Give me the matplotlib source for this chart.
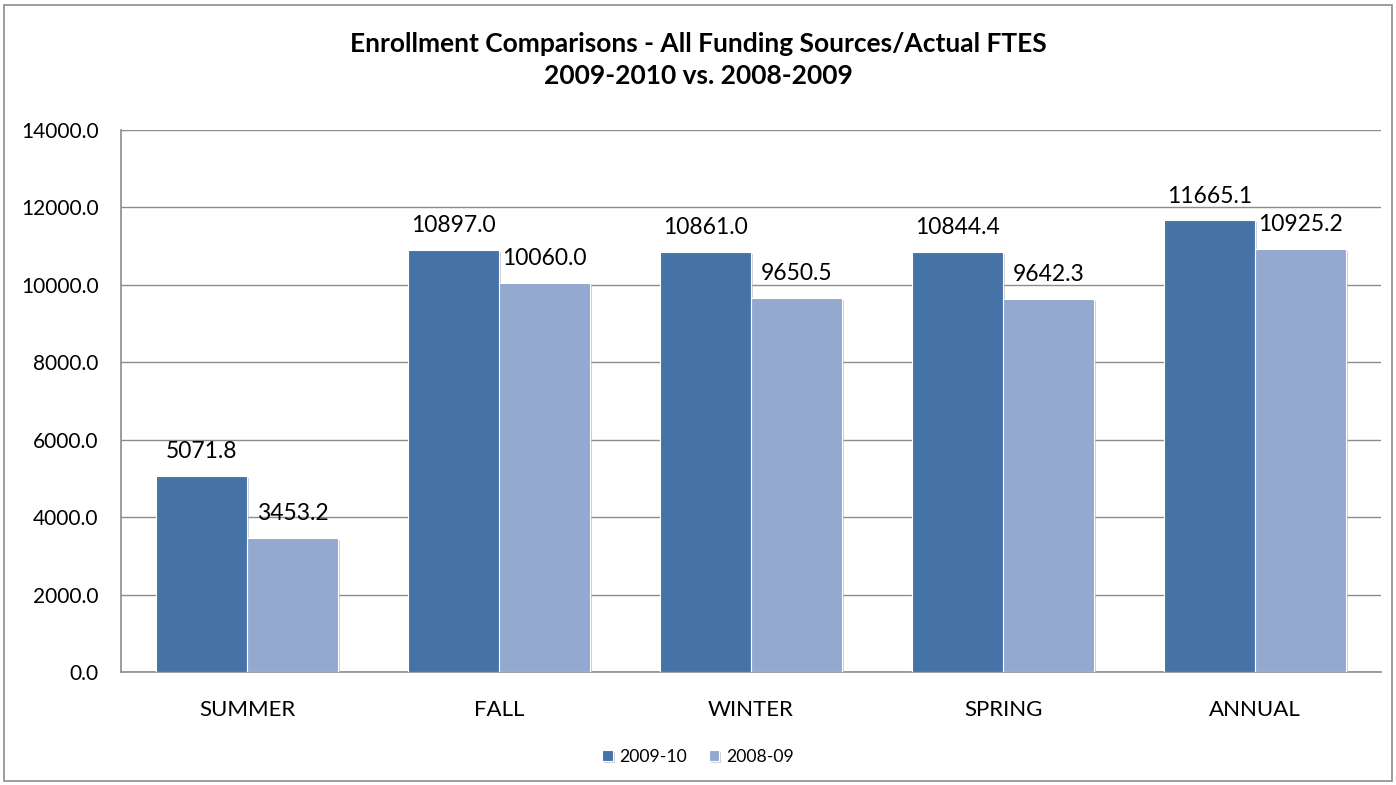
import matplotlib
matplotlib.use("Agg")
import matplotlib.pyplot as plt
import matplotlib.patheffects as pe
from matplotlib.patches import Rectangle
import numpy as np

categories = ["SUMMER", "FALL", "WINTER", "SPRING", "ANNUAL"]
series_names = ["2009-10", "2008-09"]
values_2009_10 = [5071.8, 10897.0, 10861.0, 10844.4, 11665.1]
values_2008_09 = [3453.2, 10060.0, 9650.5, 9642.3, 10925.2]
yticks = [0, 2000, 4000, 6000, 8000, 10000, 12000, 14000]

colors = ["#4572A7", "#93A9CF"]

plt.rcParams['font.family'] = ['Lato', 'DejaVu Sans']

fig = plt.figure(figsize=(13.96, 7.85), dpi=100)
fig.patches.append(Rectangle((4/1396, 4/785), 1388/1396, 776/785, transform=fig.transFigure,
                             fill=False, edgecolor="#8c8c8c", linewidth=1.2))
ax = fig.add_axes([121/1396, 1 - 672/785, 1260/1396, 542/785])

x = np.arange(len(categories))
w = 0.36
shadow = [pe.SimplePatchShadow(offset=(1.5, -1.5), shadow_rgbFace="#b0b0b0", alpha=0.6), pe.Normal()]
b1 = ax.bar(x - w/2, values_2009_10, w, color=colors[0], edgecolor="white", linewidth=0.8,
            label=series_names[0], zorder=3, path_effects=shadow)
b2 = ax.bar(x + w/2, values_2008_09, w, color=colors[1], edgecolor="white", linewidth=0.8,
            label=series_names[1], zorder=3, path_effects=shadow)

for bars, vals in ((b1, values_2009_10), (b2, values_2008_09)):
    for r, v in zip(bars, vals):
        ax.annotate(f"{v:.1f}", (r.get_x() + r.get_width()/2, v), xytext=(0, 10),
                    textcoords="offset points", ha="center", va="bottom", fontsize=16.5, color="#000000")

ax.set_xlim(-0.5, len(categories) - 0.5)
ax.set_ylim(0, 14000)
ax.set_yticks(yticks)
ax.set_yticklabels([f"{t:.1f}" for t in yticks], fontsize=15)
ax.set_xticks(x)
ax.set_xticklabels(categories, fontsize=16)
ax.tick_params(axis="x", length=0, pad=20)
ax.tick_params(axis="y", length=0, pad=16)
ax.yaxis.grid(True, color="#8c8c8c", linewidth=1, zorder=0)
ax.set_axisbelow(True)
for s in ["top", "right"]:
    ax.spines[s].set_visible(False)
ax.spines["left"].set_color("#8c8c8c")
ax.spines["bottom"].set_color("#8c8c8c")
ax.spines["left"].set_linewidth(1.2)
ax.spines["bottom"].set_linewidth(1.2)

fig.text(0.5, 1 - 60/785, "Enrollment Comparisons - All Funding Sources/Actual FTES\n2009-2010 vs. 2008-2009",
         ha="center", va="center", fontsize=19, fontweight="bold", linespacing=1.35)

leg = fig.legend(handles=[b1, b2], labels=series_names, loc="center", bbox_to_anchor=(0.5, 1 - 757/785),
                 ncol=2, frameon=False, fontsize=12.7, handlelength=0.6, handleheight=0.6,
                 handletextpad=0.4, columnspacing=1.2)

fig.savefig("out.png", dpi=100)
